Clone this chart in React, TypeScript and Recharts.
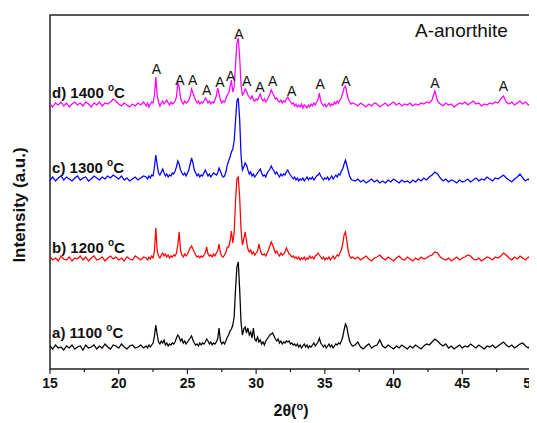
import React from "react";
import { ComposedChart, Line, XAxis, YAxis, ReferenceArea, ReferenceDot } from "recharts";

// 2θ sampling: coarse at the flat ends, finer through the peak region
const angleRange = (start: number, count: number, step: number) =>
  Array.from({ length: count }, (_, i) => Math.round((start + i * step) * 10) / 10);

const twoTheta = [
  ...angleRange(15, 35, 0.2), // 15.0 .. 21.8
  ...angleRange(22, 151, 0.1), // 22.0 .. 37.0
  ...angleRange(37.2, 65, 0.2), // 37.2 .. 50.0
];

// vertical offset of each pattern (stacked plot)
const offsets = { a: 22, b: 110, c: 190, d: 264 };

// a) 1100 °C
const patternA = [
  1, -2, 2, -1, 0, -3, 1, -1, 2, -2, 0, 1, -3, 2, -1, 0, 2, -2, 1, -1, 3, 0, -2, 2, 1, -1, 3, 0, -2, 1, 2, -1, 0, 2, -1,
  1, -1, 2, 0, 2, 4, 11, 22, 12, 5,
  3, 6, 4, 7, 2, 4, 1, 3, 2, 4,
  3, 5, 9, 12, 10, 6, 8, 4, 6, 3,
  5, 7, 9, 11, 7, 4, 2, 3, 1, 4,
  2, 4, 3, 5, 8, 6, 3, 5, 2, 4,
  3, 5, 8, 19, 6, 3, 5, 3, 6, 10,
  12, 16, 18, 22, 30, 58, 80, 85, 58, 25,
  12, 18, 20, 14, 19, 12, 15, 9, 19, 8,
  6, 10, 5, 7, 3, 5, 2, 6, 8, 10,
  12, 13, 14, 11, 8, 6, 8, 4, 6, 3,
  5, 4, 6, 5, 6, 3, 4, 2, 3, 1,
  3, 0, 2, -1, 1, 3, 0, 2, -1, 1,
  0, 2, 4, 1, 3, 5, 9, 4, 2, 0,
  2, -1, 1, 3, 0, 2, -1, 1, 3, 2,
  4, 3, 6, 10, 17, 23, 20, 12, 6, 3,
  1,
  2, 5, 0, -2, 1, 3, -1, 1, 2, 7,
  1, -1, 2, 0, -2, 1, -1, 2, 0, -2,
  1, -1, 2, 0, -2, 1, 3, 2, 5, 8,
  6, 3, 1, 3, -1, 1, -2, 0, 2, -1,
  1, 0, 3, 1, -1, 2, 0, -2, 1, 0,
  2, -1, 1, 3, 5, 2, 0, 2, -1, 1,
  3, 4, 1, -1, 2,
];

// b) 1200 °C
const patternB = [
  2, -1, 1, -2, 3, 0, -1, 2, -2, 1, 0, 3, -1, 2, -2, 1, 3, -1, 0, 2, -2, 1, 3, 0, 2, -1, 1, -2, 2, 0, -1, 3, 1, -1, 2,
  1, -1, 2, 0, 3, 1, 8, 31, 8, 3,
  1, 4, 6, 3, 5, 2, 4, 1, 3, 2,
  4, 3, 6, 14, 27, 8, 4, 2, 5, 3,
  5, 8, 11, 13, 10, 7, 4, 2, 3, 1,
  3, 2, 4, 6, 12, 5, 3, 4, 2, 5,
  3, 6, 8, 15, 6, 3, 2, 4, 7, 12,
  12, 18, 28, 16, 26, 58, 80, 82, 62, 30,
  14, 20, 27, 18, 10, 7, 9, 5, 7, 4,
  6, 8, 15, 9, 5, 4, 5, 3, 6, 9,
  13, 17, 14, 10, 6, 8, 5, 3, 6, 4,
  5, 7, 11, 8, 5, 4, 2, 3, 1, 2,
  0, 2, -1, 1, 0, 2, -1, 1, 0, 3,
  1, 2, 0, 3, 4, 6, 4, 2, 0, 2,
  -1, 1, 0, 2, -1, 1, 3, 0, 2, 4,
  3, 6, 9, 15, 24, 27, 18, 8, 3, 1,
  2,
  0, 2, -1, 1, 3, 0, -2, 1, 2, 4,
  1, -1, 2, 0, -2, 1, 3, 0, -1, 2,
  0, -2, 1, -1, 2, 0, 1, 3, 4, 7,
  6, 2, 0, -1, 1, -2, 0, 2, -1, 1,
  2, 4, 3, 0, -1, 1, -2, 0, 2, 1,
  -1, 2, 1, 3, 6, 4, 1, -1, 2, 0,
  3, 1, -1, 2, 0,
];

// c) 1300 °C
const patternC = [
  -1, 2, -2, 1, 3, -1, 2, 0, -2, 1, 3, -1, 1, 2, -2, 0, 3, 1, -1, 2, 0, 3, 1, 4, 2, 0, 3, -1, 1, -2, 0, 2, -1, 1, 3,
  2, 0, 3, 1, 4, 3, 12, 24, 14, 6,
  4, 7, 10, 6, 3, 5, 2, 4, 3, 6,
  5, 8, 12, 18, 15, 9, 6, 4, 6, 3,
  6, 9, 15, 21, 16, 9, 6, 3, 5, 2,
  4, 3, 6, 9, 6, 3, 5, 2, 4, 6,
  5, 4, 6, 11, 8, 4, 2, 3, 7, 14,
  18, 22, 27, 30, 38, 58, 78, 81, 60, 24,
  9, 12, 16, 14, 9, 5, 7, 3, 5, 2,
  4, 6, 8, 10, 6, 3, 4, 2, 6, 8,
  10, 13, 10, 8, 5, 7, 4, 2, 5, 3,
  5, 4, 7, 9, 6, 4, 2, 0, 2, -1,
  1, -2, 0, -1, 1, -2, 0, 2, -1, 1,
  0, 2, -1, 1, 3, 4, 6, 3, 1, -1,
  1, 0, 2, -1, 1, 3, 0, 2, 4, 2,
  5, 4, 8, 10, 15, 19, 14, 8, 3, 0,
  -1,
  -2, 0, -3, -1, -4, -2, 0, -3, -1, -4,
  -2, -4, -1, -3, 0, -2, -4, -1, -3, -2,
  -4, -1, -3, 0, -2, 1, -1, 2, 4, 7,
  5, 1, -2, 0, -3, -1, -2, -4, -1, -3,
  -2, 0, -3, -1, 1, -2, 0, -1, 2, 0,
  -2, 1, 0, 2, 4, 1, -1, -3, 0, 2,
  5, 1, -2, 0, -3,
];

// d) 1400 °C
const patternD = [
  1, -2, 2, 0, 3, -1, 2, -2, 1, 3, 0, 2, -1, 3, 1, -2, 2, 0, 3, -1, 2, 1, 3, 6, 4, 1, -1, 2, 0, -2, 1, -1, 2, 0, 3,
  -1, 2, -2, 1, 3, 2, 10, 28, 9, 3,
  -1, 2, 4, 1, 3, 5, 2, 0, 3, 1,
  2, 4, 8, 22, 18, 7, 3, 1, 4, 2,
  3, 5, 9, 16, 12, 8, 5, 2, 4, 1,
  3, 2, 4, 7, 5, 2, 4, 1, 3, 2,
  5, 9, 17, 11, 5, 2, 4, 3, 6, 10,
  12, 18, 25, 13, 18, 40, 62, 67, 48, 20,
  10, 12, 16, 14, 10, 8, 6, 9, 5, 4,
  6, 5, 8, 11, 6, 4, 6, 3, 5, 8,
  11, 15, 12, 9, 6, 7, 4, 3, 5, 2,
  4, 3, 6, 8, 5, 3, 1, 2, -1, 1,
  -2, 0, -2, 1, -3, 0, -1, -3, 0, -2,
  1, -1, 2, 0, 3, 5, 12, 4, 1, -1,
  1, -2, 0, 2, -1, 1, 0, 3, 1, 4,
  2, 5, 7, 12, 17, 19, 12, 6, 3, 1,
  2,
  1, -1, 2, 0, -2, 1, -1, 2, 1, -2,
  0, 2, -1, 1, 3, 0, 2, -1, 1, 0,
  2, -1, 1, 0, 2, 1, 3, 2, 5, 14,
  4, 1, -1, 2, 0, 1, -2, 0, 2, 1,
  3, 0, 2, 4, 1, 2, -1, 1, 0, 2,
  1, 3, 2, 6, 9, 3, 1, 3, 0, 2,
  4, 1, 3, 0, 2,
];

// "A" (anorthite) reflections marked above pattern d
const anorthiteX = [22.75, 24.45, 25.38, 26.4, 27.37, 28.15, 28.75, 29.31, 30.28, 31.2, 32.58, 34.65, 36.54, 43.01, 47.99];
const anorthiteY = [300, 289, 289, 279, 287, 293, 335, 288, 282, 288, 278, 285, 288, 286, 283];

const sampleNames = ["a) 1100", "b) 1200", "c) 1300", "d) 1400"];
const sampleLabelY = [37, 122, 202, 277];

const xTicks = [15, 17.5, 20, 22.5, 25, 27.5, 30, 32.5, 35, 37.5, 40, 42.5, 45, 47.5, 50];

const data = twoTheta.map((x, i) => ({
  x,
  a: offsets.a + patternA[i],
  b: offsets.b + patternB[i],
  c: offsets.c + patternC[i],
  d: offsets.d + patternD[i],
}));

const FONT = '"Liberation Sans", Arial, Helvetica, sans-serif';
const AXIS_Y = 361;

const AngleTick = (props: any) => {
  const { x, payload } = props;
  const major = payload.value % 5 === 0;
  return (
    <g>
      <line x1={x} x2={x} y1={AXIS_Y} y2={AXIS_Y + (major ? 5 : 3)} stroke="#222" strokeWidth={1.2} />
      {major && (
        <text x={x} y={380} textAnchor="middle" fontFamily={FONT} fontWeight="bold" fontSize={14} fill="#111">
          {payload.value}
        </text>
      )}
    </g>
  );
};

const App = () => {
  return (
    <div style={{ width: 529, height: 415 }}>
      <ComposedChart width={529} height={415} data={data} margin={{ top: 7, right: 6, left: 0, bottom: 24 }}>
        <XAxis
          dataKey="x"
          type="number"
          domain={[15, 50]}
          ticks={xTicks}
          interval={0}
          tick={<AngleTick />}
          tickLine={false}
          axisLine={false}
          height={30}
          label={{
            content: () => (
              <text x={283} y={408} textAnchor="middle" fontFamily={FONT} fontWeight="bold" fontSize={16} fill="#111">
                2θ(<tspan fontSize={11} dy={-6}>o</tspan>
                <tspan dy={6}>)</tspan>
              </text>
            ),
          }}
        />
        <YAxis
          type="number"
          domain={[0, 354]}
          width={42}
          tick={false}
          tickLine={false}
          axisLine={false}
          label={{
            content: () => (
              <text
                x={11.5}
                y={197}
                transform="rotate(-90, 11.5, 197)"
                textAnchor="middle"
                dominantBaseline="central"
                fontFamily={FONT}
                fontWeight="bold"
                fontSize={17}
                fill="#111"
              >
                Intensity (a.u.)
              </text>
            ),
          }}
        />
        <Line dataKey="d" stroke="#ff00ff" strokeWidth={1.25} dot={false} isAnimationActive={false} />
        <Line dataKey="c" stroke="#0000ff" strokeWidth={1.25} dot={false} isAnimationActive={false} />
        <Line dataKey="b" stroke="#ff0000" strokeWidth={1.25} dot={false} isAnimationActive={false} />
        <Line dataKey="a" stroke="#000000" strokeWidth={1.25} dot={false} isAnimationActive={false} />
        <ReferenceArea x1={15} x2={50} y1={0} y2={354} fill="none" stroke="#222" strokeWidth={1.5} ifOverflow="visible" />
        {anorthiteX.map((x, i) => (
          <ReferenceDot
            key={`A${i}`}
            x={x}
            y={anorthiteY[i]}
            r={0}
            fill="none"
            stroke="none"
            label={(p: any) => (
              <text
                x={p.viewBox.x}
                y={p.viewBox.y}
                textAnchor="middle"
                dominantBaseline="central"
                fontFamily={FONT}
                fontSize={14}
                fill="#111"
              >
                A
              </text>
            )}
          />
        ))}
        {sampleNames.map((name, i) => (
          <ReferenceDot
            key={name}
            x={15.15}
            y={sampleLabelY[i]}
            r={0}
            fill="none"
            stroke="none"
            label={(p: any) => (
              <text
                x={p.viewBox.x}
                y={p.viewBox.y}
                dominantBaseline="central"
                fontFamily={FONT}
                fontWeight="bold"
                fontSize={15}
                fill="#111"
              >
                {name} <tspan fontSize={10} dy={-5}>o</tspan>
                <tspan dy={5}>C</tspan>
              </text>
            )}
          />
        ))}
        <ReferenceDot
          x={41.56}
          y={339}
          r={0}
          fill="none"
          stroke="none"
          label={(p: any) => (
            <text x={p.viewBox.x} y={p.viewBox.y} dominantBaseline="central" fontFamily={FONT} fontSize={19} fill="#111">
              A-anorthite
            </text>
          )}
        />
      </ComposedChart>
    </div>
  );
};

export default App;
